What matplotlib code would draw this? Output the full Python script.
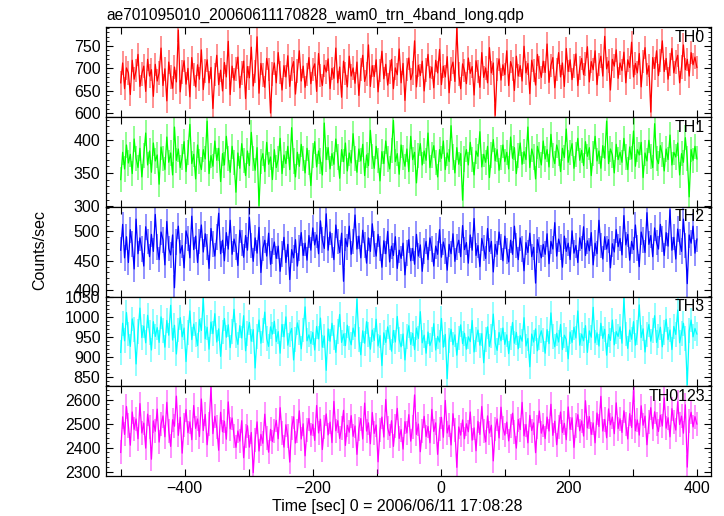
"""
WAM light curve, 4 bands + sum (qdp re-plot)
"""
import numpy as np
import matplotlib
matplotlib.use("Agg")
import matplotlib.pyplot as plt
from matplotlib.ticker import MultipleLocator, FuncFormatter

plt.rcParams['font.family'] = ['Liberation Sans', 'DejaVu Sans']
plt.rcParams['font.size'] = 11.3

title = "ae701095010_20060611170828_wam0_trn_4band_long.qdp"
xlabel = "Time [sec] 0 = 2006/06/11 17:08:28"
ylabel = "Counts/sec"

# bin start times (3 s bins), sec from 2006/06/11 17:08:28
t_first = -500
t_step = 3
n_bins = 301

th0 = [
    668, 712, 655, 701, 690, 642, 718, 676, 695, 731, 660, 688, 705, 649, 720, 683, 697, 638, 709, 672,
    690, 745, 662, 699, 628, 714, 681, 656, 703, 670, 785, 648, 692, 717, 665, 700, 637, 724, 686, 659,
    708, 676, 741, 653, 694, 719, 668, 702, 611, 687, 729, 664, 696, 650, 713, 681, 760, 642, 705, 674,
    699, 725, 657, 690, 716, 633, 704, 679, 747, 661, 693, 770, 645, 711, 685, 658, 722, 697, 601, 688,
    712, 668, 735, 691, 652, 706, 681, 728, 660, 699, 715, 643, 694, 739, 672, 705, 658, 687, 724, 666,
    698, 710, 649, 733, 684, 662, 707, 692, 721, 655, 700, 678, 745, 668, 703, 636, 716, 689, 659, 727,
    683, 701, 667, 714, 640, 697, 729, 671, 688, 752, 660, 706, 682, 719, 648, 695, 738, 677, 709, 663,
    692, 720, 655, 701, 686, 743, 668, 711, 629, 698, 723, 675, 690, 761, 659, 707, 684, 716, 650, 696,
    731, 679, 703, 657, 718, 690, 742, 664, 705, 681, 726, 646, 699, 714, 671, 790, 688, 655, 710, 695,
    666, 723, 689, 704, 641, 717, 693, 658, 735, 680, 701, 668, 746, 690, 712, 596, 697, 721, 674, 708,
    686, 739, 662, 715, 699, 651, 727, 683, 706, 672, 749, 690, 711, 644, 718, 695, 663, 731, 702, 680,
    716, 691, 754, 669, 707, 724, 657, 698, 735, 681, 712, 660, 744, 693, 719, 675, 705, 732, 662, 701,
    722, 686, 710, 748, 670, 715, 697, 739, 664, 708, 727, 683, 771, 699, 716, 652, 720, 705, 741, 678,
    712, 695, 736, 668, 719, 702, 758, 681, 711, 690, 733, 659, 715, 746, 687, 706, 603, 724, 700, 739,
    684, 717, 761, 693, 722, 676, 709, 744, 690, 714, 729, 668, 703, 752, 697, 720, 683, 735, 708, 725,
    702,
]
th1 = [
    340, 381, 356, 392, 365, 378, 349, 401, 372, 358, 387, 344, 376, 410, 362, 383, 351, 395, 368, 377,
    333, 389, 372, 355, 404, 366, 380, 347, 419, 369, 386, 358, 374, 397, 352, 381, 423, 364, 378, 341,
    392, 367, 355, 385, 371, 428, 349, 376, 360, 398, 369, 387, 337, 379, 362, 405, 372, 351, 390, 366,
    321, 380, 357, 394, 369, 346, 383, 361, 411, 372, 354, 388, 301, 367, 379, 352, 396, 363, 374, 340,
    385, 358, 371, 402, 349, 377, 364, 390, 355, 418, 368, 344, 381, 360, 393, 372, 350, 387, 366, 331,
    376, 397, 359, 383, 368, 347, 425, 370, 388, 356, 379, 363, 401, 374, 342, 385, 367, 395, 353, 380,
    365, 409, 372, 351, 386, 368, 393, 346, 377, 361, 414, 375, 357, 390, 369, 338, 382, 364, 398, 371,
    356, 384, 429, 367, 379, 348, 392, 373, 360, 386, 352, 405, 370, 381, 335, 376, 394, 362, 383, 369,
    410, 358, 377, 391, 366, 344, 385, 372, 398, 355, 380, 367, 421, 374, 350, 388, 363, 379, 309, 371,
    385, 362, 396, 370, 347, 383, 375, 412, 359, 378, 366, 390, 343, 377, 400, 368, 385, 354, 373, 392,
    367, 381, 356, 404, 372, 388, 349, 376, 395, 363, 382, 370, 419, 358, 386, 374, 341, 390, 377, 362,
    398, 371, 385, 359, 408, 376, 364, 392, 380, 352, 387, 373, 416, 366, 381, 394, 357, 378, 402, 369,
    384, 361, 397, 375, 388, 346, 379, 405, 368, 383, 357, 391, 372, 428, 364, 386, 377, 350, 393, 370,
    381, 366, 402, 374, 355, 389, 371, 413, 360, 385, 377, 396, 343, 380, 368, 399, 375, 358, 424, 372,
    364, 391, 378, 353, 386, 370, 407, 362, 381, 374, 395, 347, 379, 366, 403, 372, 314, 385, 369, 390,
    371,
]
th2 = [
    468, 512, 455, 491, 447, 503, 478, 436, 521, 462, 489, 470, 441, 508, 483, 457, 495, 466, 529, 474,
    452, 499, 486, 443, 517, 471, 460, 494, 404, 482, 509, 463, 476, 438, 501, 488, 455, 526, 469, 492,
    447, 483, 511, 465, 496, 474, 437, 505, 479, 458, 490, 531, 462, 485, 450, 498, 470, 519, 461, 487,
    473, 442, 502, 480, 456, 493, 468, 524, 476, 449, 489, 463, 507, 430, 471, 485, 458, 497, 444, 466,
    482, 454, 475, 432, 461, 490, 447, 478, 418, 469, 455, 486, 441, 472, 498, 459, 480, 451, 493, 468,
    506, 477, 494, 462, 518, 485, 471, 530, 468, 499, 476, 452, 511, 483, 464, 497, 415, 488, 474, 509,
    461, 483, 528, 470, 492, 455, 502, 477, 446, 489, 466, 513, 479, 458, 495, 471, 439, 484, 462, 500,
    448, 475, 459, 491, 437, 468, 454, 480, 426, 463, 486, 450, 471, 444, 495, 458, 477, 432, 466, 483,
    452, 489, 470, 441, 475, 461, 503, 456, 482, 467, 434, 478, 462, 496, 449, 473, 485, 457, 510, 469,
    481, 446, 494, 468, 522, 459, 476, 440, 488, 472, 454, 505, 466, 483, 431, 478, 461, 499, 474, 450,
    492, 467, 448, 485, 461, 509, 476, 452, 489, 470, 433, 481, 464, 497, 457, 473, 412, 486, 469, 455,
    478, 461, 496, 445, 483, 470, 515, 458, 487, 474, 439, 492, 466, 480, 452, 501, 463, 476, 447, 489,
    471, 508, 459, 484, 467, 498, 443, 480, 462, 519, 476, 453, 491, 470, 486, 438, 479, 465, 503, 474,
    488, 460, 527, 477, 495, 451, 483, 469, 511, 472, 440, 499, 485, 464, 532, 478, 493, 457, 506, 481,
    470, 512, 487, 459, 498, 475, 537, 468, 490, 453, 504, 482, 466, 521, 476, 411, 494, 480, 509, 463,
    487,
]
th3 = [
    912, 985, 941, 1012, 958, 927, 996, 970, 883, 964, 1023, 949, 978, 936, 1005, 961, 918, 989, 952, 974,
    937, 1001, 966, 925, 992, 955, 1030, 943, 980, 908, 968, 999, 951, 973, 889, 962, 1016, 944, 983, 957,
    929, 994, 967, 1047, 946, 975, 920, 988, 959, 1009, 938, 971, 902, 963, 997, 950, 981, 924, 965, 1020,
    955, 932, 979, 948, 1004, 916, 960, 987, 940, 969, 873, 952, 993, 935, 966, 1013, 947, 927, 976, 958,
    990, 939, 964, 910, 982, 951, 1001, 930, 957, 972, 893, 945, 986, 962, 921, 968, 1026, 941, 956, 934,
    962, 918, 977, 946, 998, 925, 953, 867, 971, 940, 985, 950, 912, 964, 1007, 937, 958, 929, 980, 948,
    931, 973, 952, 1045, 944, 906, 966, 935, 989, 957, 920, 968, 942, 995, 928, 954, 879, 961, 937, 976,
    949, 915, 967, 938, 1002, 944, 926, 958, 893, 951, 979, 932, 960, 919, 973, 947, 1014, 936, 955, 910,
    963, 929, 944, 984, 918, 952, 938, 997, 925, 957, 846, 942, 970, 931, 956, 905, 948, 981, 934, 960,
    920, 951, 939, 992, 913, 945, 968, 930, 959, 886, 944, 976, 927, 953, 1008, 936, 917, 962, 941, 973,
    932, 956, 909, 948, 987, 935, 962, 921, 954, 940, 999, 928, 947, 876, 958, 938, 971, 916, 950, 966,
    943, 910, 969, 934, 1011, 951, 926, 960, 938, 982, 919, 955, 944, 896, 963, 937, 975, 948, 1016, 930,
    958, 941, 979, 912, 966, 950, 1025, 936, 961, 928, 985, 947, 970, 905, 957, 942, 993, 931, 964, 952,
    976, 935, 1048, 958, 922, 968, 945, 989, 930, 961, 1031, 949, 971, 913, 956, 982, 940, 966, 1004, 937,
    953, 975, 926, 962, 995, 944, 968, 919, 977, 957, 1018, 936, 960, 985, 947, 831, 966, 993, 951, 972,
    958,
]
th0123 = [
    2380, 2528, 2455, 2571, 2492, 2410, 2548, 2476, 2519, 2437, 2583, 2461, 2502, 2398, 2539, 2484, 2352, 2511, 2468, 2560,
    2423, 2497, 2532, 2445, 2588, 2470, 2405, 2516, 2489, 2614, 2451, 2526, 2377, 2493, 2558, 2462, 2507, 2433, 2575, 2480,
    2519, 2446, 2602, 2471, 2538, 2412, 2497, 2651, 2458, 2530, 2485, 2389, 2547, 2466, 2510, 2435, 2590, 2478, 2523, 2450,
    2401, 2469, 2427, 2512, 2358, 2448, 2491, 2402, 2463, 2296, 2432, 2507, 2386, 2455, 2418, 2539, 2441, 2381, 2476, 2425,
    2471, 2513, 2437, 2566, 2459, 2402, 2495, 2447, 2340, 2482, 2528, 2419, 2468, 2553, 2436, 2499, 2366, 2475, 2521, 2452,
    2497, 2430, 2575, 2461, 2518, 2392, 2486, 2540, 2453, 2506, 2421, 2592, 2470, 2512, 2438, 2481, 2555, 2409, 2493, 2464,
    2533, 2447, 2490, 2372, 2478, 2521, 2436, 2585, 2469, 2503, 2416, 2546, 2459, 2494, 2341, 2473, 2527, 2444, 2600, 2482,
    2450, 2512, 2405, 2489, 2563, 2438, 2475, 2394, 2508, 2461, 2537, 2427, 2484, 2619, 2455, 2498, 2383, 2471, 2530, 2446,
    2488, 2420, 2559, 2467, 2503, 2372, 2479, 2526, 2443, 2596, 2461, 2493, 2411, 2541, 2474, 2318, 2486, 2452, 2515, 2437,
    2499, 2466, 2548, 2431, 2482, 2387, 2509, 2455, 2571, 2470, 2424, 2532, 2461, 2493, 2345, 2477, 2519, 2440, 2568, 2483,
    2452, 2506, 2428, 2489, 2543, 2466, 2398, 2517, 2475, 2588, 2449, 2496, 2420, 2534, 2471, 2503, 2379, 2485, 2552, 2460,
    2495, 2438, 2527, 2469, 2580, 2451, 2510, 2412, 2487, 2548, 2463, 2501, 2433, 2569, 2476, 2524, 2401, 2492, 2537, 2470,
    2511, 2448, 2595, 2482, 2529, 2455, 2503, 2420, 2544, 2488, 2613, 2469, 2517, 2441, 2561, 2495, 2527, 2458, 2586, 2479,
    2520, 2463, 2553, 2497, 2436, 2541, 2484, 2638, 2470, 2515, 2452, 2574, 2493, 2531, 2412, 2507, 2566, 2478, 2549, 2499,
    2467, 2535, 2490, 2607, 2481, 2524, 2445, 2562, 2508, 2473, 2591, 2496, 2531, 2460, 2578, 2319, 2512, 2547, 2486, 2529,
    2498,
]
# 1-sigma error per panel (counts/sec)
errs = [26, 19, 22, 31, 50]

names = ["TH0", "TH1", "TH2", "TH3", "TH0123"]
series = [th0, th1, th2, th3, th0123]
colors = ["#ff0000", "#00ff00", "#0000ff", "#00ffff", "#ff00ff"]
ylims = [(592, 791), (299, 434), (389, 542), (827, 1052), (2282, 2655)]
ymajor = [50, 50, 50, 50, 100]
yminor = [10, 10, 10, 10, 20]

t = t_first + t_step * np.arange(n_bins)

fig, axs = plt.subplots(5, 1, sharex=True, figsize=(7.24, 5.16), dpi=100)
fig.subplots_adjust(left=0.1464, right=0.982, top=0.947, bottom=0.0775, hspace=0)

for i, ax in enumerate(axs):
    y = np.array(series[i])
    ax.vlines(t, y - errs[i], y + errs[i], color=colors[i], alpha=0.55, lw=1.1)
    ax.plot(t, y, color=colors[i], lw=0.9)
    ax.set_xlim(-523, 422)
    ax.set_ylim(*ylims[i])
    ax.yaxis.set_major_locator(MultipleLocator(ymajor[i]))
    ax.yaxis.set_minor_locator(MultipleLocator(yminor[i]))
    ax.xaxis.set_major_locator(MultipleLocator(100))
    ax.xaxis.set_major_formatter(FuncFormatter(
        lambda v, p: ("\u2212%d" % -v if v < 0 else "%d" % v) if int(round(v)) % 200 == 0 else ""))
    ax.tick_params(which='both', direction='in', top=True, right=True, labelsize=11.5)
    ax.tick_params(which='major', length=5, width=0.8)
    ax.tick_params(which='minor', length=2.5, width=0.6)
    ax.tick_params(axis='y', which='major', pad=4)
    for s in ax.spines.values():
        s.set_linewidth(0.9)
    ax.annotate(names[i], xy=(1, 1), xycoords='axes fraction', xytext=(-6, -10),
                textcoords='offset pixels', ha='right', va='center', fontsize=11.5)

fig.text(106 / 724, 1 - 15 / 516, title, ha='left', va='center', fontsize=11.2)
fig.text(40 / 724, 1 - 250 / 516, ylabel, rotation=90, ha='center', va='center', fontsize=11.5)
fig.text(397 / 724, 1 - 507 / 516, xlabel, ha='center', va='center', fontsize=11.5)

plt.savefig("out.png", dpi=100)
